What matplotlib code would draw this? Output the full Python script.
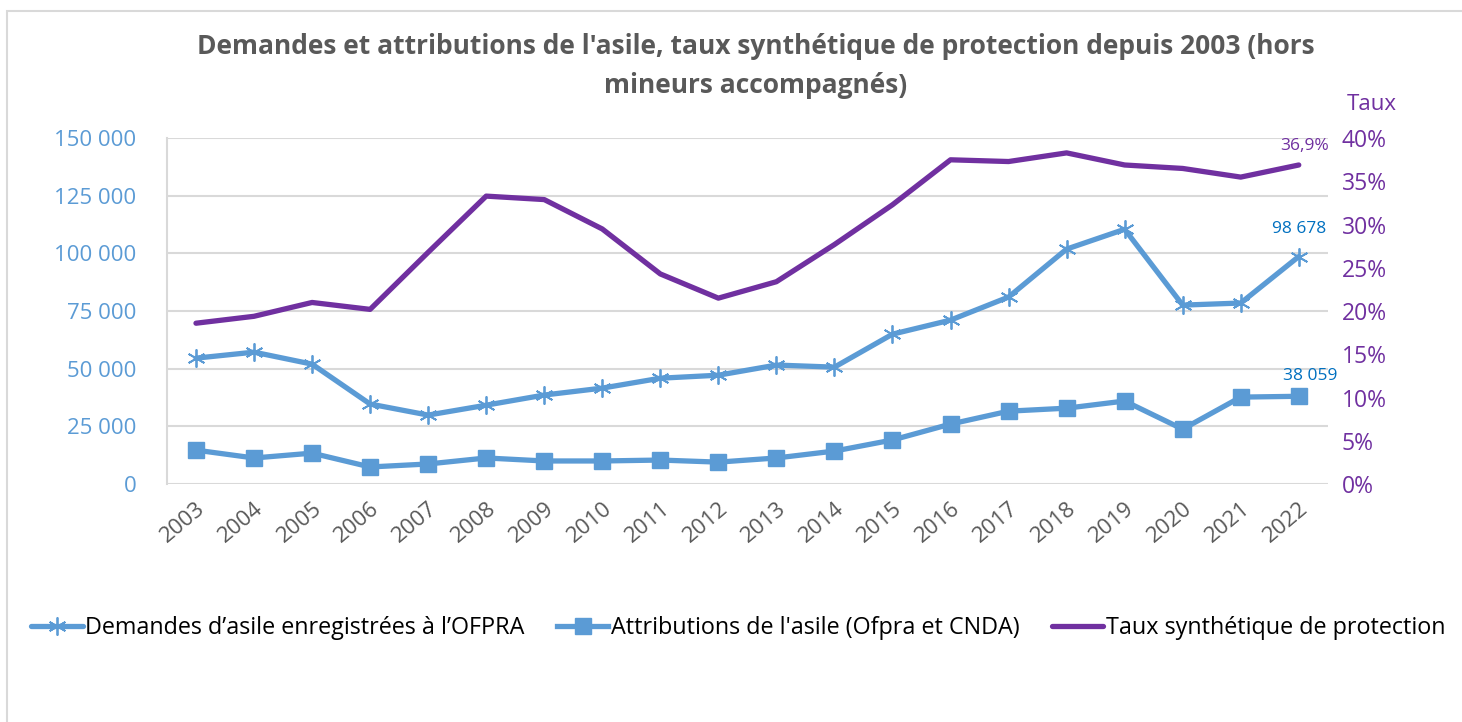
import matplotlib
matplotlib.use("Agg")
import matplotlib.pyplot as plt
from matplotlib.ticker import FuncFormatter, MultipleLocator
from matplotlib.patches import Rectangle

plt.rcParams['font.family'] = ['Open Sans', 'DejaVu Sans']

years = [str(y) for y in range(2003, 2023)]
demandes = [54600, 57200, 52000, 34700, 29900, 34200, 38600, 41600, 45900, 47200,
            51600, 50700, 65000, 71100, 81100, 101900, 110500, 77600, 78500, 98678]
attributions = [14700, 11300, 13400, 7400, 8700, 11300, 10000, 10000, 10400, 9500,
                11300, 14300, 19100, 26000, 31600, 32900, 36000, 23800, 37700, 38059]
taux = [18.6, 19.4, 21.0, 20.2, 26.8, 33.3, 32.9, 29.5, 24.3, 21.5,
        23.4, 27.7, 32.3, 37.5, 37.3, 38.3, 36.9, 36.5, 35.5, 36.9]

BLUE = '#5B9BD5'
PURPLE = '#7030A0'
LABEL_BLUE = '#0070C0'
GRAY = '#595959'
GRID = '#D9D9D9'

fig = plt.figure(figsize=(14.62, 7.22), dpi=100)
fig.patches.append(Rectangle((0.005, -0.05), 1.1, 1.035, transform=fig.transFigure,
                             fill=False, edgecolor='#D9D9D9', linewidth=1.5))

ax = fig.add_axes([0.1142, 0.3296, 0.794, 0.479])
ax2 = ax.twinx()

x = list(range(len(years)))

ax.set_xlim(-0.5, len(years) - 0.5)
ax.set_ylim(0, 150000)
ax.yaxis.set_major_locator(MultipleLocator(25000))
ax.yaxis.set_major_formatter(FuncFormatter(lambda v, p: f"{int(v):,}".replace(",", " ")))
ax.grid(axis='y', color=GRID, linewidth=1.5)
ax.set_axisbelow(True)

ax2.set_ylim(0, 40)
ax2.yaxis.set_major_locator(MultipleLocator(5))
ax2.yaxis.set_major_formatter(FuncFormatter(lambda v, p: f"{int(v)}%"))

for a in (ax, ax2):
    for s in ['top', 'right', 'bottom']:
        a.spines[s].set_visible(False)
ax.spines['left'].set_color(GRID)
ax.spines['left'].set_linewidth(1.5)
ax2.spines['left'].set_visible(False)

l1, = ax.plot(x, demandes, color=BLUE, linewidth=3.8, marker=(6, 2, 0), markersize=13,
              markeredgewidth=1.3, markeredgecolor=BLUE, solid_capstyle='round',
              label="Demandes d\u2019asile enregistrées à l\u2019OFPRA", zorder=3)
l2, = ax.plot(x, attributions, color=BLUE, linewidth=3.8, marker='s', markersize=11,
              markeredgecolor=BLUE, label="Attributions de l'asile (Ofpra et CNDA)", zorder=3)
l3, = ax2.plot(x, taux, color=PURPLE, linewidth=3.8, solid_capstyle='round',
               label="Taux synthétique de protection", zorder=3)

ax.set_xticks(x)
ax.set_xticklabels(years, rotation=40, ha='right', rotation_mode='anchor',
                   fontsize=16, color=GRAY, family=['Open Sans'])
ax.tick_params(axis='x', length=0, pad=10)
ax.tick_params(axis='y', length=0, labelsize=16, labelcolor=BLUE, pad=22)
ax2.tick_params(axis='y', length=0, labelsize=16.5, labelcolor=PURPLE, pad=10)

ax.annotate(f"{demandes[-1]:,}".replace(",", " "), (x[-1], demandes[-1]), xytext=(0, 14),
            textcoords='offset points', ha='center', va='bottom', color=LABEL_BLUE, fontsize=12.5)
ax.annotate(f"{attributions[-1]:,}".replace(",", " "), (x[-1], attributions[-1]), xytext=(8, 9),
            textcoords='offset points', ha='center', va='bottom', color=LABEL_BLUE, fontsize=12.5)
ax2.annotate(f"{taux[-1]:.1f}%".replace(".", ","), (x[-1], taux[-1]), xytext=(4, 8),
             textcoords='offset points', ha='center', va='bottom', color=PURPLE, fontsize=12.5)

fig.text(0.938, 0.855, "Taux", color=PURPLE, fontsize=16, ha='center', va='center')

fig.text(0.517, 0.935, "Demandes et attributions de l'asile, taux synthétique de protection depuis 2003 (hors",
         ha='center', va='center', fontsize=19, fontweight='bold', color=GRAY)
fig.text(0.517, 0.882, "mineurs accompagnés)",
         ha='center', va='center', fontsize=19, fontweight='bold', color=GRAY)

fig.legend(handles=[l1, l2, l3], loc='center', bbox_to_anchor=(0.505, 0.13), ncol=3,
           frameon=False, fontsize=16.8, handlelength=2.2, handletextpad=0.1, columnspacing=1.4)

fig.savefig('out.png', dpi=100)
